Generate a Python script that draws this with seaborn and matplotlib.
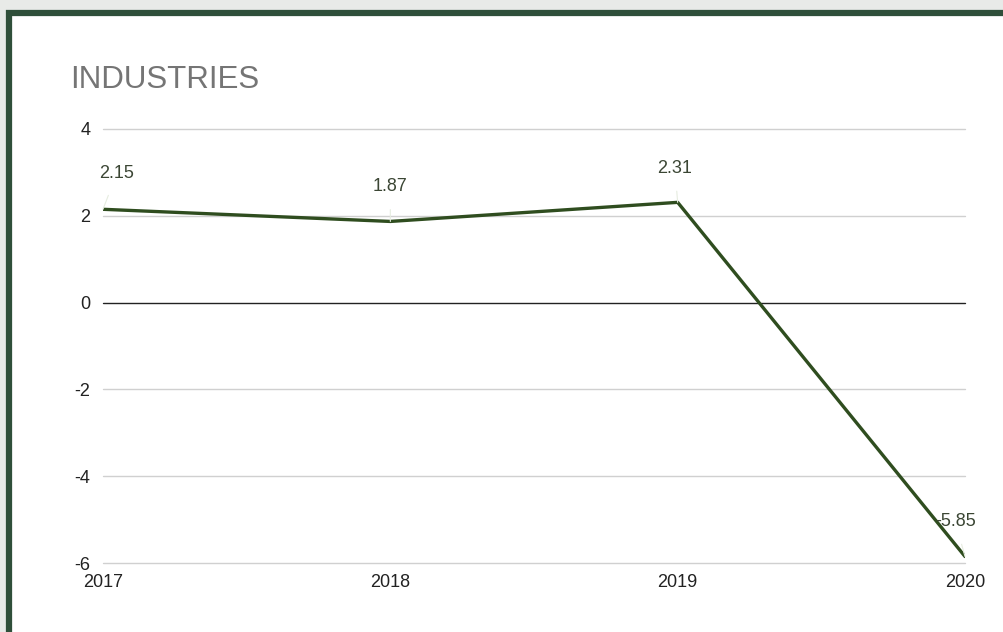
import matplotlib
matplotlib.use("Agg")
import matplotlib.pyplot as plt
import matplotlib.patches as mpatches
import pandas as pd
import seaborn as sns

# ── Data ─────────────────────────────────────────────────────────────
years = [2017, 2018, 2019, 2020]
growth = [2.15, 1.87, 2.31, -5.85]
y_ticks = [-6, -4, -2, 0, 2, 4]

LINE = "#2f4d1f"
FRAME = "#2f4f3a"

sns.set_theme(style="white")
plt.rcParams["font.family"] = ["Liberation Sans", "DejaVu Sans"]

df = pd.DataFrame({"year": years, "growth": growth})

fig = plt.figure(figsize=(10.04, 6.32), dpi=100)
fig.patch.set_facecolor("#e8eae8")

# white card with dark green border, cropped at right/bottom
card = mpatches.Rectangle((9 / 1004, -0.05), 1.1, 1 - 13 / 632 + 0.05,
                          transform=fig.transFigure, facecolor="white",
                          edgecolor=FRAME, linewidth=4.5, zorder=-5)
fig.patches.append(card)

ax = fig.add_axes([103 / 1004, 1 - 563 / 632, (965 - 103) / 1004, (563 - 129) / 632])
ax.set_facecolor("none")
ax.set_zorder(2)

sns.lineplot(data=df, x="year", y="growth", color=LINE, linewidth=2.4, ax=ax, zorder=3)

ax.set_xlim(years[0], years[-1])
ax.set_ylim(-6, 4)
ax.set_xticks(years)
ax.set_xticklabels([str(y) for y in years])
ax.set_yticks(y_ticks)
ax.set_yticklabels([str(t) for t in y_ticks])
ax.tick_params(axis="both", length=0, labelsize=13, labelcolor="#222222")
ax.tick_params(axis="y", pad=9)
ax.tick_params(axis="x", pad=8)
for t in y_ticks:
    ax.axhline(t, color="#222222" if t == 0 else "#d0d0d0", linewidth=1,
               zorder=2, clip_on=False)
for s in ax.spines.values():
    s.set_visible(False)
ax.set_xlabel("")
ax.set_ylabel("")

# data labels
offsets = [(10, 26), (0, 25), (-2, 24.5), (-7, 25)]
for x, y, (dx, dy) in zip(years, growth, offsets):
    ax.annotate(f"{y:.2f}", (x, y), xytext=(dx, dy), textcoords="offset points",
                ha="center", va="center", fontsize=13, color="#3b4634",
                arrowprops=dict(arrowstyle="-", color="#e6ece0", lw=0.8,
                                shrinkA=8, shrinkB=0))

fig.text(70 / 1004, 1 - 80 / 632, "INDUSTRIES", fontsize=22.5, color="#757575",
         ha="left", va="center")

fig.savefig("out.png", dpi=100, facecolor=fig.get_facecolor())
